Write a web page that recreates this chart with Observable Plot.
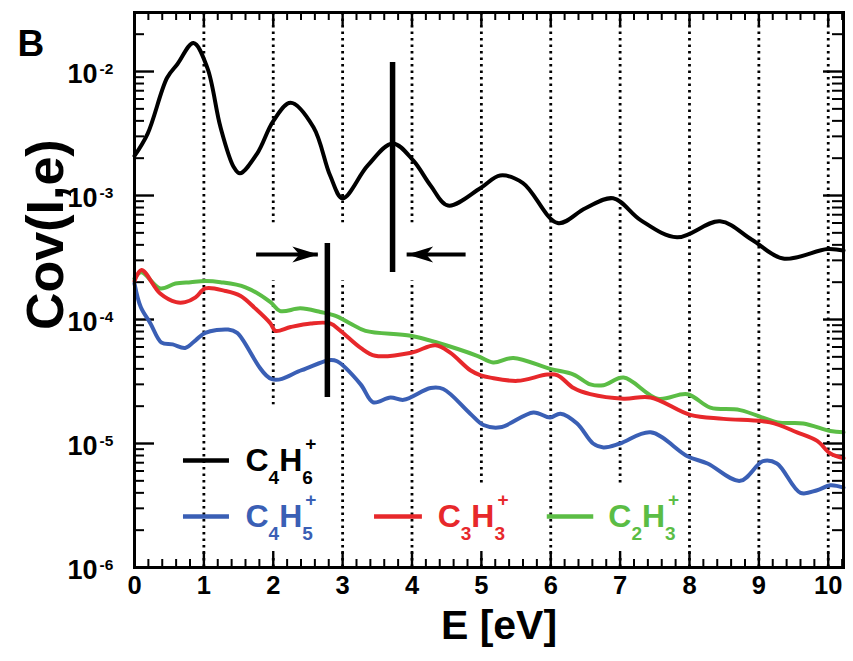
<!DOCTYPE html>
<html>
<head>
<meta charset="utf-8">
<script src="https://cdn.jsdelivr.net/npm/d3@7"></script>
<script src="https://cdn.jsdelivr.net/npm/@observablehq/plot@0.6"></script>
<style>
  body { margin: 0; background: #fff; }
  #chart svg { display: block; }
</style>
</head>
<body>
<div id="chart"></div>
<script>
// Covariance of ion yield with electron energy, Cov(I,e), for four fragment ions
const ions = ["C4H6+", "C4H5+", "C3H3+", "C2H3+"];
const ionFormulas = ["C_4H_6^+", "C_4H_5^+", "C_3H_3^+", "C_2H_3^+"];
const ionColors = ["#000000", "#3a5fb5", "#e7282b", "#5bbd45"];

const energyC4H6 = [0.00, 0.19, 0.47, 0.62, 0.85, 1.05, 1.24, 1.43, 1.52, 1.77, 2.00, 2.25, 2.58, 2.82, 3.00, 3.36, 3.72, 4.02, 4.27, 4.52, 4.99, 5.27, 5.60, 6.10, 6.50, 6.90, 7.30, 7.82, 8.44, 8.90, 9.35, 9.99, 10.22];
const covC4H6 = [2.09e-3, 3.16e-3, 8.9e-3, 1.15e-2, 1.70e-2, 1.07e-2, 3.55e-3, 1.70e-3, 1.51e-3, 2.19e-3, 3.98e-3, 5.6e-3, 3.55e-3, 1.45e-3, 9.5e-4, 1.74e-3, 2.63e-3, 1.91e-3, 1.20e-3, 8.3e-4, 1.15e-3, 1.45e-3, 1.26e-3, 6.0e-4, 7.9e-4, 9.5e-4, 6.3e-4, 4.6e-4, 6.2e-4, 4.4e-4, 3.1e-4, 3.7e-4, 3.6e-4];

const energyC4H5 = [0.00, 0.09, 0.23, 0.39, 0.55, 0.73, 0.88, 1.02, 1.35, 1.48, 1.98, 2.41, 2.80, 2.92, 3.26, 3.44, 3.69, 3.88, 4.27, 4.45, 4.84, 5.03, 5.27, 5.75, 5.99, 6.14, 6.38, 6.61, 6.76, 7.00, 7.44, 7.97, 8.26, 8.73, 9.06, 9.26, 9.60, 9.84, 10.03, 10.22];
const covC4H5 = [1.95e-4, 1.26e-4, 9.3e-5, 6.5e-5, 6.3e-5, 5.9e-5, 6.8e-5, 7.8e-5, 8.3e-5, 7.8e-5, 3.3e-5, 3.9e-5, 4.7e-5, 4.6e-5, 3.0e-5, 2.15e-5, 2.35e-5, 2.25e-5, 2.8e-5, 2.75e-5, 1.74e-5, 1.41e-5, 1.35e-5, 1.78e-5, 1.62e-5, 1.74e-5, 1.45e-5, 1.0e-5, 9.3e-6, 1.0e-5, 1.23e-5, 7.9e-6, 6.9e-6, 5.0e-6, 7.2e-6, 6.9e-6, 4.0e-6, 4.2e-6, 4.6e-6, 4.4e-6];

const energyC3H3 = [0.00, 0.10, 0.37, 0.60, 0.73, 0.88, 1.02, 1.31, 1.53, 1.74, 1.96, 2.03, 2.25, 2.54, 2.82, 2.97, 3.26, 3.47, 3.99, 4.34, 4.55, 4.84, 4.99, 5.13, 5.52, 5.95, 6.10, 6.33, 6.57, 7.05, 7.44, 8.01, 8.49, 9.16, 9.55, 9.84, 10.03, 10.22];
const covC3H3 = [2.04e-4, 2.51e-4, 1.62e-4, 1.38e-4, 1.38e-4, 1.51e-4, 1.78e-4, 1.70e-4, 1.55e-4, 1.23e-4, 9.3e-5, 8.1e-5, 8.7e-5, 9.3e-5, 9.3e-5, 8.1e-5, 5.9e-5, 5.1e-5, 5.4e-5, 6.2e-5, 5.4e-5, 3.9e-5, 3.55e-5, 3.4e-5, 3.2e-5, 3.6e-5, 3.55e-5, 2.8e-5, 2.5e-5, 2.3e-5, 2.35e-5, 1.70e-5, 1.58e-5, 1.48e-5, 1.23e-5, 1.05e-5, 8.3e-6, 7.6e-6];

const energyC2H3 = [0.00, 0.10, 0.37, 0.59, 0.81, 1.02, 1.24, 1.60, 1.96, 2.10, 2.39, 2.68, 2.90, 3.11, 3.33, 3.98, 4.37, 4.94, 5.17, 5.46, 5.99, 6.33, 6.57, 6.76, 7.05, 7.54, 7.97, 8.30, 8.73, 9.27, 9.64, 10.03, 10.22];
const covC2H3 = [2.14e-4, 2.40e-4, 1.78e-4, 1.95e-4, 2.00e-4, 2.04e-4, 2.00e-4, 1.82e-4, 1.38e-4, 1.17e-4, 1.23e-4, 1.15e-4, 1.07e-4, 9.3e-5, 8.1e-5, 7.4e-5, 6.5e-5, 5.1e-5, 4.5e-5, 4.9e-5, 4.0e-5, 3.6e-5, 3.0e-5, 2.95e-5, 3.4e-5, 2.3e-5, 2.5e-5, 1.95e-5, 1.86e-5, 1.48e-5, 1.45e-5, 1.26e-5, 1.23e-5];

// Axis ticks and labels
const xTickLabels = [0, 1, 2, 3, 4, 5, 6, 7, 8, 9, 10];
const xGridLines = [1, 2, 3, 4, 5, 6, 7, 8, 9, 10];
const yDecades = [1e-6, 1e-5, 1e-4, 1e-3, 1e-2];

// Marked energies (vertical bars) and the arrows pointing at them
const markerBars = [
  {E: 3.72, low: 2.39e-4, high: 1.18e-2},
  {E: 2.78, low: 2.35e-5, high: 4.1e-4}
];
const arrows = [
  {cov: 3.34e-4, tail: 1.76, tip: 2.65, dir: "right"},
  {cov: 3.34e-4, tail: 4.78, tip: 3.93, dir: "left"}
];

// ---- layout ----
const W = 853, H = 661;
const mL = 134, mR = 10, mT = 12, mB = 94;
const plotW = W - mL - mR, plotH = H - mT - mB;
const xMax = 10.22;
const yMax = Math.pow(10, -1.524);

// white boxes behind the annotations (they interrupt the dotted grid)
const gridMasks = [
  {x1: 1.85, x2: 4.15, y1: 2.05e-4, y2: 6.0e-4},
  {x1: 1.9, x2: 2.1, y1: 1.2e-6, y2: 2.04e-5},
  {x1: 4.9, x2: 5.1, y1: 1.2e-6, y2: 4.75e-6},
  {x1: 6.9, x2: 7.1, y1: 1.2e-6, y2: 4.75e-6}
];

// legend placement (data coordinates of the plot)
const legendRows = [
  {ion: "C4H6+", y: 7.3e-6, x1: 0.706, x2: 1.369, tx: 1.60},
  {ion: "C4H5+", y: 2.58e-6, x1: 0.706, x2: 1.369, tx: 1.60},
  {ion: "C3H3+", y: 2.58e-6, x1: 3.46, x2: 4.15, tx: 4.37},
  {ion: "C2H3+", y: 2.58e-6, x1: 5.95, x2: 6.62, tx: 6.83}
];

// ---- data table ----
function rows(ion, E, C) { return E.map((e, i) => ({ion, E: e, cov: C[i]})); }
const series = {
  "C2H3+": rows("C2H3+", energyC2H3, covC2H3),
  "C3H3+": rows("C3H3+", energyC3H3, covC3H3),
  "C4H5+": rows("C4H5+", energyC4H5, covC4H5),
  "C4H6+": rows("C4H6+", energyC4H6, covC4H6)
};

const minorX = d3.range(1, 52).map(i => i * 0.2).filter(v => Math.abs(v - Math.round(v)) > 1e-6 && v <= xMax);
const minorY = [];
for (const d of [1e-6, 1e-5, 1e-4, 1e-3, 1e-2]) for (let k = 2; k <= 9; k++) if (k * d < yMax) minorY.push(k * d);

// arrowhead symbols with the tip at the origin
const headRight = {draw(ctx) { ctx.moveTo(0, 0); ctx.lineTo(-26, -8); ctx.lineTo(-19, 0); ctx.lineTo(-26, 8); ctx.closePath(); }};
const headLeft = {draw(ctx) { ctx.moveTo(0, 0); ctx.lineTo(26, -8); ctx.lineTo(19, 0); ctx.lineTo(26, 8); ctx.closePath(); }};

const formulaIndex = new Map(ions.map((d, i) => [d, ionFormulas[i]]));

const chart = Plot.plot({
  width: W, height: H,
  marginLeft: mL, marginRight: mR, marginTop: mT, marginBottom: mB,
  x: {domain: [0, xMax], axis: null},
  y: {type: "log", domain: [1e-6, yMax], axis: null},
  color: {domain: ions, range: ionColors},
  style: {fontFamily: "'Liberation Sans', Arial, Helvetica, sans-serif", fontWeight: "bold", background: "#fff", color: "#000"},
  marks: [
    // dotted vertical grid
    Plot.ruleX(xGridLines, {x: d => d, stroke: "#000", strokeWidth: 2.8, strokeDasharray: "2.6 3.9"}),
    Plot.rect(gridMasks, {x1: "x1", x2: "x2", y1: "y1", y2: "y2", fill: "#fff"}),

    // inward ticks on all four sides
    Plot.ruleX(minorX, {x: d => d, insetTop: plotH - 8, strokeWidth: 2}),
    Plot.ruleX(minorX, {x: d => d, insetBottom: plotH - 8, strokeWidth: 2}),
    Plot.ruleX(xGridLines, {x: d => d, insetTop: plotH - 16, strokeWidth: 2.4}),
    Plot.ruleX(xGridLines, {x: d => d, insetBottom: plotH - 13, strokeWidth: 2.4}),
    Plot.ruleY(minorY, {y: d => d, insetRight: plotW - 10, strokeWidth: 2}),
    Plot.ruleY(minorY, {y: d => d, insetLeft: plotW - 11, strokeWidth: 2}),
    Plot.ruleY(yDecades, {y: d => d, insetRight: plotW - 20, strokeWidth: 2.4}),
    Plot.ruleY(yDecades, {y: d => d, insetLeft: plotW - 20, strokeWidth: 2.4}),

    // the four covariance curves
    ...["C2H3+", "C3H3+", "C4H5+", "C4H6+"].map(ion =>
      Plot.line(series[ion], {x: "E", y: "cov", stroke: "ion", strokeWidth: 4, curve: "catmull-rom"})
    ),

    // marked energies and arrows
    Plot.ruleX(markerBars, {x: "E", y1: "low", y2: "high", stroke: "#000", strokeWidth: 5.5}),
    Plot.ruleY(arrows, {y: "cov", x1: "tail", x2: "tip", stroke: "#000", strokeWidth: 4}),
    Plot.dot(arrows.filter(d => d.dir === "right"), {x: "tip", y: "cov", symbol: headRight, fill: "#000", stroke: null, r: 8}),
    Plot.dot(arrows.filter(d => d.dir === "left"), {x: "tip", y: "cov", symbol: headLeft, fill: "#000", stroke: null, r: 8}),

    // legend
    Plot.ruleY(legendRows, {y: "y", x1: "x1", x2: "x2", stroke: "ion", strokeWidth: 4.5}),
    Plot.text(legendRows, {x: "tx", y: "y", text: d => formulaIndex.get(d.ion), fill: "ion", textAnchor: "start", fontSize: 32}),

    Plot.frame({stroke: "#000", strokeWidth: 3}),

    // tick labels
    Plot.text(xTickLabels, {x: d => d, text: d => String(d), frameAnchor: "bottom", dy: 26, fontSize: 25.5, fill: "#000"}),
    Plot.text(yDecades, {y: d => d, text: () => "10", frameAnchor: "left", textAnchor: "end", dx: -37, dy: 2.5, fontSize: 27, fill: "#000"}),
    Plot.text(yDecades, {y: d => d, text: d => String(Math.round(Math.log10(d))), frameAnchor: "left", textAnchor: "start", dx: -35, dy: -2, fontSize: 15.5, fill: "#000"}),

    // axis titles and panel letter
    Plot.text(["Cov(I,e)"], {text: d => d, frameAnchor: "left", rotate: -90, dx: -88, dy: 40, fontSize: 52, fill: "#000"}),
    Plot.text(["E [eV]"], {text: d => d, frameAnchor: "bottom", dx: 10, dy: 71, fontSize: 41, fill: "#000"}),
    Plot.text(["B"], {text: d => d, frameAnchor: "top-left", textAnchor: "start", dx: -117, dy: 17, fontSize: 37, fill: "#000"})
  ]
});

// chemical formulas: "_x" is a subscript, "^x" a superscript stacked over it
const SUB_SHIFT = 13, SUP_SHIFT = -21, SCRIPT_SIZE = 19;
chart.querySelectorAll("text").forEach(node => {
  const src = node.textContent;
  if (!/[_^]/.test(src)) return;
  while (node.firstChild) node.removeChild(node.firstChild);
  let offset = 0, prev = "base";
  for (let i = 0; i < src.length; i++) {
    let ch = src[i], kind = "base";
    if (ch === "_" || ch === "^") { kind = ch === "_" ? "sub" : "sup"; ch = src[++i]; }
    const t = document.createElementNS("http://www.w3.org/2000/svg", "tspan");
    const target = kind === "sub" ? SUB_SHIFT : kind === "sup" ? SUP_SHIFT : 0;
    t.setAttribute("dy", target - offset);
    offset = target;
    if (kind !== "base") t.setAttribute("font-size", SCRIPT_SIZE);
    if (kind === "sup" && prev === "sub") t.setAttribute("dx", -SCRIPT_SIZE * 0.4);
    t.textContent = ch;
    node.appendChild(t);
    prev = kind;
  }
});

document.getElementById("chart").appendChild(chart);
</script>
</body>
</html>
